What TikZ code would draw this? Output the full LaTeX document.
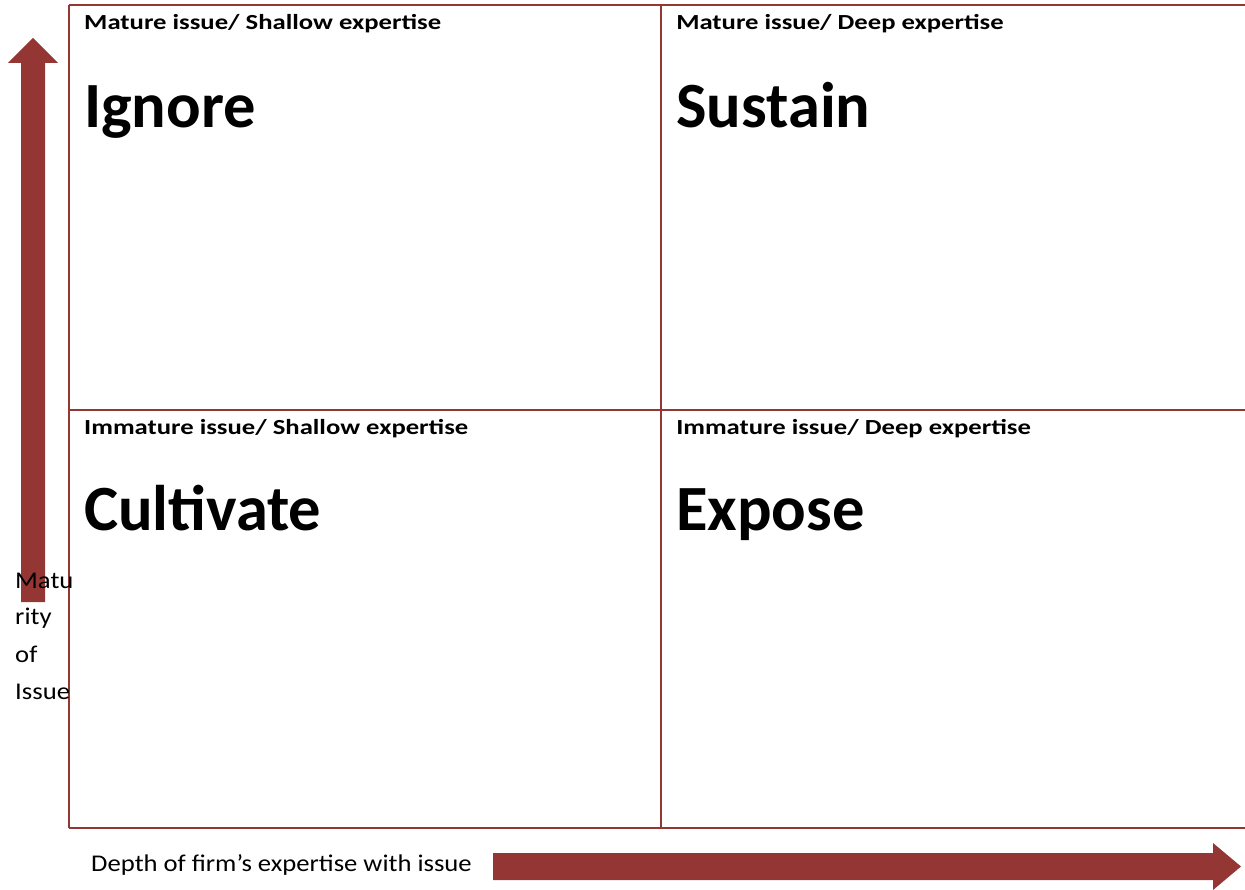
\documentclass[tikz,border=0pt]{standalone}
\usepackage{fontspec}
\setmainfont{Carlito}
\definecolor{wred}{HTML}{943634}
\begin{document}
\begin{tikzpicture}[x=1pt,y=-1pt,
  gridline/.style={draw=wred,line width=1.6pt},
  head/.style={anchor=base west,inner sep=0pt,xscale=1.24,transform shape,font=\bfseries\fontsize{21.5}{24}\selectfont},
  big/.style={anchor=base west,inner sep=0pt,font=\bfseries\fontsize{64.5}{70}\selectfont},
  axis/.style={anchor=base west,inner sep=0pt,xscale=1.11,transform shape,font=\fontsize{24}{28}\selectfont},
  arrowfill/.style={fill=wred}]
\useasboundingbox (0,0) rectangle (1245,890);
% grid
\coordinate (tl) at (69,5);
\coordinate (tr) at (1245,5);
\coordinate (ml) at (69,410);
\coordinate (mr) at (1245,410);
\coordinate (bl) at (69,828);
\coordinate (br) at (1245,828);
\coordinate (tm) at (661,5);
\coordinate (bm) at (661,828);
\draw[gridline] (tl) -- (tr);
\draw[gridline] (ml) -- (mr);
\draw[gridline,line width=2pt] (bl) -- (br);
\draw[gridline] (tl) -- (bl);
\draw[gridline] (tm) -- (bm);
% up arrow
\fill[arrowfill] (21,602) -- (21,63) -- (8,63) -- (33,38) -- (58,63) -- (45,63) -- (45,602) -- cycle;
% right arrow
\fill[arrowfill] (493,853) -- (1213,853) -- (1213,843) -- (1241,866.5) -- (1213,890) -- (1213,880) -- (493,880) -- cycle;
% texts
\node[head] (h1) at (84,30) {Mature issue/ Shallow expertise};
\node[head] (h2) at (676,30) {Mature issue/ Deep expertise};
\node[head] (h3) at (84,435) {Immature issue/ Shallow expertise};
\node[head] (h4) at (676,435) {Immature issue/ Deep expertise};
\node[big] (b1) at (84,128) {Ignore};
\node[big] (b2) at (676,128) {Sustain};
\node[big] (b3) at (84,530) {Cultivate};
\node[big] (b4) at (676,530) {Expose};
\node[axis] (y1) at (15,588) {Matu};
\node[axis] (y2) at (15,624) {rity};
\node[axis] (y3) at (15,662) {of};
\node[axis] (y4) at (15,699) {Issue};
\node[axis] (x1) at (91,871) {Depth of firm’s expertise with issue};
\end{tikzpicture}
\end{document}
